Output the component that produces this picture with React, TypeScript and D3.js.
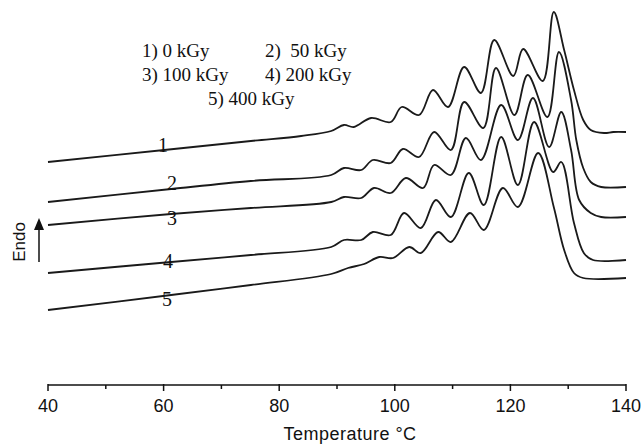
import React from 'react';
import * as d3 from 'd3';

// Irradiation doses (legend categories)
const doses: string[] = ['0 kGy', '50 kGy', '100 kGy', '200 kGy', '400 kGy'];
const curveNames: string[] = ['1', '2', '3', '4', '5'];

// X axis ticks (Temperature, °C)
const majorTicks: number[] = [40, 60, 80, 100, 120, 140];
const minorTicks: number[] = [50, 70, 90, 110, 130];

// DSC traces: [temperature °C, heat flow (a.u., endo up)]
const curve1: [number, number][] = [
  [40, 223], [60.1, 235], [75.1, 244], [83.8, 249], [89.0, 254], [91.2, 260], [92.9, 258],
  [95.9, 267], [99.3, 263], [101.2, 278], [104.2, 270], [106.6, 295], [109.2, 278],
  [112.0, 318], [114.9, 292], [117.2, 345], [120.5, 309], [122.2, 336], [125.6, 304],
  [127.5, 373], [129.3, 335], [131.0, 295], [132.6, 265], [133.9, 255], [136.2, 252],
  [137.8, 253], [140, 253],
];
const curve2: [number, number][] = [
  [40, 183], [61.3, 196], [75.1, 204], [89.0, 210], [91.2, 217], [94.2, 215], [96.2, 225],
  [99.3, 222], [101.4, 236], [104.2, 228], [106.8, 253], [109.7, 235], [112.0, 283],
  [115.3, 257], [117.5, 317], [120.7, 270], [123.0, 310], [126.4, 268], [128.4, 333],
  [130.5, 285], [131.4, 245], [132.6, 217], [133.9, 203], [135.7, 198], [140, 198],
];
const curve3: [number, number][] = [
  [40, 160], [61.3, 171], [75.1, 177], [89.0, 183], [91.2, 188], [94.2, 187], [96.4, 197],
  [99.3, 192], [101.9, 207], [104.9, 197], [106.8, 220], [109.7, 210], [112.3, 247],
  [114.9, 225], [118.4, 280], [121.3, 245], [123.9, 287], [126.7, 238], [128.8, 273],
  [130.5, 235], [131.9, 185], [133.9, 172], [135.7, 168], [140, 168],
];
const curve4: [number, number][] = [
  [40, 112], [61.3, 123], [75.1, 130], [89.0, 138], [91.2, 145], [94.2, 145], [96.2, 153],
  [99.3, 150], [101.6, 172], [104.5, 157], [107.1, 185], [109.7, 168], [112.8, 212],
  [115.4, 180], [118.4, 248], [121.3, 200], [124.1, 263], [127.4, 213], [128.8, 223],
  [131.0, 162], [132.7, 132], [134.3, 125], [140, 125],
];
const curve5: [number, number][] = [
  [40, 75], [61.3, 90], [75.1, 100], [89.0, 111], [91.9, 117], [94.7, 121], [97.3, 128],
  [99.7, 127], [102.5, 138], [104.5, 132], [107.5, 153], [109.7, 143], [113.0, 172],
  [115.4, 155], [118.7, 197], [121.3, 178], [124.8, 232], [127.5, 178], [129.3, 135],
  [131.0, 112], [132.6, 107], [140, 107],
];
const curves = [curve1, curve2, curve3, curve4, curve5];

const W = 641;
const H = 444;
const axisY = 385;

export default function App() {
  const x = d3.scaleLinear().domain([40, 140]).range([48, 626]);
  const y = d3.scaleLinear().domain([0, 385]).range([axisY, 0]);
  const line = d3
    .line<[number, number]>()
    .x((d) => x(d[0]))
    .y((d) => y(d[1]))
    .curve(d3.curveCatmullRom.alpha(0.5));

  const serif = "'Liberation Serif', 'Times New Roman', serif";
  const sans = "'Liberation Sans', Arial, sans-serif";

  // legend layout (positions are layout, not data)
  const legendPos = [
    { x: 142, y: 57 },
    { x: 265, y: 57 },
    { x: 142, y: 81 },
    { x: 265, y: 81 },
    { x: 208, y: 105 },
  ];
  const labelPos = [
    { x: 163, y: 152 },
    { x: 172, y: 190 },
    { x: 172, y: 225 },
    { x: 168, y: 268 },
    { x: 167, y: 306 },
  ];

  return (
    <svg
      width={W}
      height={H}
      viewBox={`0 0 ${W} ${H}`}
      style={{ position: 'absolute', left: 0, top: 0, background: '#fff' }}
    >
      <rect x={0} y={0} width={W} height={H} fill="#fff" />
      {curves.map((c, i) => (
        <path key={i} d={line(c) || ''} fill="none" stroke="#1a1a1a" strokeWidth={1.8} />
      ))}
      {curveNames.map((n, i) => (
        <text key={n} x={labelPos[i].x} y={labelPos[i].y} fontFamily={serif} fontSize={20} textAnchor="middle" fill="#111">
          {n}
        </text>
      ))}
      {doses.map((d, i) => (
        <text
          key={d}
          x={legendPos[i].x}
          y={legendPos[i].y}
          fontFamily={serif}
          fontSize={19}
          fill="#111"
          style={{ whiteSpace: 'pre' }}
        >
          {`${i + 1})${i === 1 ? '  ' : ' '}${d}`}
        </text>
      ))}
      {/* x axis */}
      <line x1={x(40)} x2={x(140)} y1={axisY} y2={axisY} stroke="#111" strokeWidth={1.5} />
      {majorTicks.map((t) => (
        <g key={t}>
          <line x1={x(t)} x2={x(t)} y1={axisY - 1} y2={axisY + 6} stroke="#111" strokeWidth={1.5} />
          <text x={x(t)} y={412} textAnchor="middle" fontFamily={sans} fontSize={18} fill="#111">
            {t}
          </text>
        </g>
      ))}
      {minorTicks.map((t) => (
        <line key={t} x1={x(t)} x2={x(t)} y1={axisY} y2={axisY + 4} stroke="#111" strokeWidth={1.5} />
      ))}
      <text x={350} y={440} textAnchor="middle" fontFamily={sans} fontSize={18} letterSpacing={0.5} fill="#111">
        Temperature °C
      </text>
      {/* Endo arrow */}
      <line x1={39} x2={39} y1={262} y2={226} stroke="#111" strokeWidth={1.5} />
      <polygon points="34,230 44,230 39,218" fill="#111" />
      <text
        transform="translate(19,242) rotate(-90)"
        textAnchor="middle"
        dominantBaseline="central"
        fontFamily={sans}
        fontSize={17}
        fill="#111"
      >
        Endo
      </text>
    </svg>
  );
}
